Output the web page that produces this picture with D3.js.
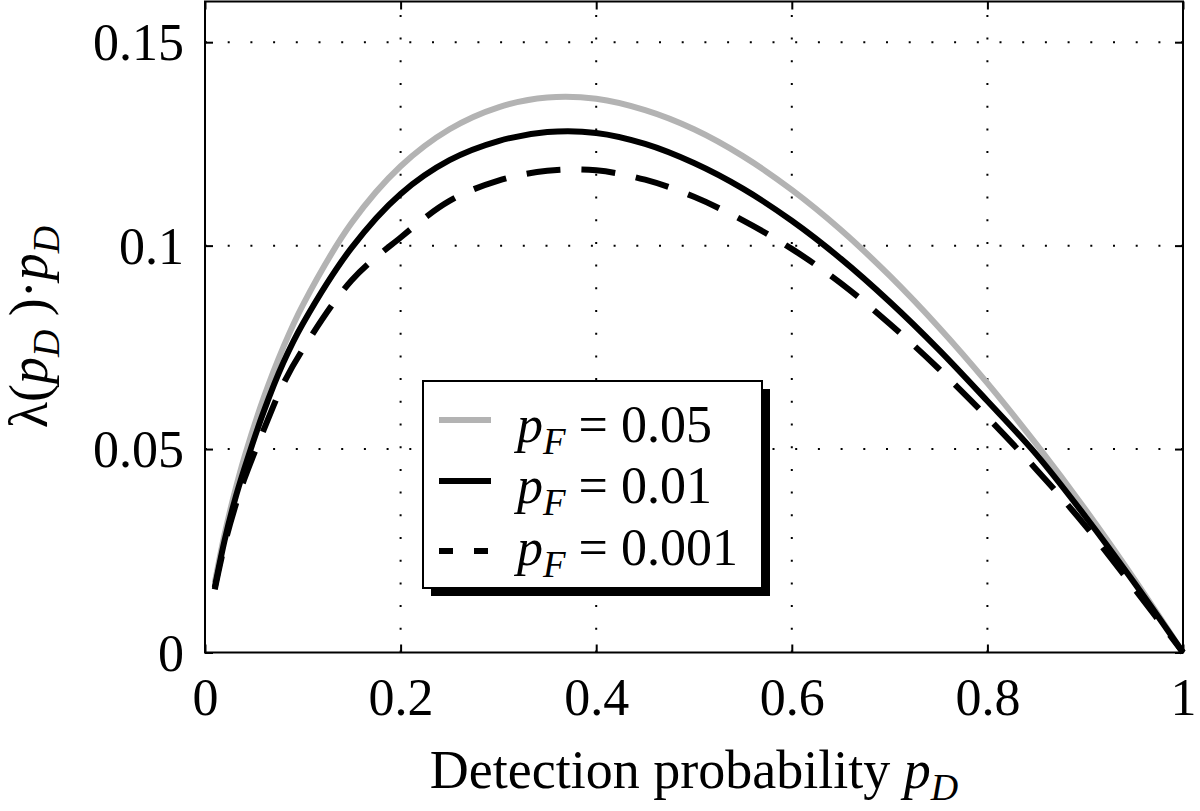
<!DOCTYPE html>
<html>
<head>
<meta charset="utf-8">
<script src="https://cdn.jsdelivr.net/npm/d3@7"></script>
<style>
  body { margin: 0; background: #fff; }
  svg text { font-family: "Liberation Serif", "Times New Roman", serif; fill: #000; }
</style>
</head>
<body>
<div id="chart"></div>
<script>
// detection probability samples
var pD = [0.01, 0.02, 0.03, 0.04, 0.06, 0.08, 0.1, 0.15, 0.2, 0.25, 0.3, 0.35, 0.4, 0.45, 0.5,
          0.55, 0.6, 0.65, 0.7, 0.75, 0.8, 0.85, 0.9, 0.95, 1.0];

// lambda(pD)*pD, one list per false alarm probability
var pF005 = [0.0171, 0.0290, 0.0390, 0.0478, 0.0626, 0.0750, 0.0854, 0.1056, 0.1195, 0.1286, 0.1340, 0.1364,
             0.1361, 0.1333, 0.1286, 0.1220, 0.1137, 0.1039, 0.0926, 0.0800, 0.0662, 0.0512, 0.0352, 0.0181, 0];
var pF001 = [0.0160, 0.0275, 0.0370, 0.0450, 0.0592, 0.0712, 0.0808, 0.0995, 0.1127, 0.1210, 0.1257, 0.1279,
             0.1277, 0.1250, 0.1203, 0.1140, 0.1061, 0.0968, 0.0862, 0.0745, 0.0618, 0.0487, 0.0335, 0.0172, 0];
var pF0001 = [0.0155, 0.0265, 0.0352, 0.0425, 0.0547, 0.0660, 0.0745, 0.0915, 0.1020, 0.1110, 0.1160, 0.1184,
              0.1185, 0.1162, 0.1120, 0.1062, 0.0992, 0.0908, 0.0808, 0.0698, 0.0578, 0.0450, 0.0312, 0.0158, 0];

var seriesNames = ["0.05", "0.01", "0.001"];

var xTicks = [0, 0.2, 0.4, 0.6, 0.8, 1];
var xTickLabels = ["0", "0.2", "0.4", "0.6", "0.8", "1"];
var yTicks = [0, 0.05, 0.1, 0.15];
var yTickLabels = ["0", "0.05", "0.1", "0.15"];

(function chart() {

  var W = 1200,
    H = 811,
    margin = { top: 1.5, right: 17, bottom: 158.5, left: 205 },
    width = W - margin.left - margin.right,
    height = H - margin.top - margin.bottom;

  var svg = d3.select("#chart")
    .append("svg")
    .attr("width", W)
    .attr("height", H);

  var g = svg.append("g")
    .attr("transform", "translate(" + margin.left + "," + margin.top + ")");

  var x = d3.scaleLinear().domain([0, 1]).range([0, width]);
  var y = d3.scaleLinear().domain([0, 0.16]).range([height, 0]);

  // dotted grid
  g.selectAll(".vgrid")
    .data(xTicks.slice(1, -1))
    .enter().append("line")
    .attr("class", "vgrid")
    .attr("x1", function(d) { return x(d); })
    .attr("x2", function(d) { return x(d); })
    .attr("y1", height)
    .attr("y2", 0)
    .attr("stroke", "#000")
    .attr("stroke-width", 2)
    .attr("stroke-dasharray", "2,20.7");

  g.selectAll(".hgrid")
    .data(yTicks.slice(1))
    .enter().append("line")
    .attr("class", "hgrid")
    .attr("x1", 0)
    .attr("x2", width)
    .attr("y1", function(d) { return y(d); })
    .attr("y2", function(d) { return y(d); })
    .attr("stroke", "#000")
    .attr("stroke-width", 2)
    .attr("stroke-dasharray", "2,20.7");

  var styles = [
    { color: "#b3b3b3", dash: null, legendDash: null },
    { color: "#000", dash: null, legendDash: null },
    { color: "#000", dash: "34,21", legendDash: "14,21" }
  ];
  var series = [pF005, pF001, pF0001];

  var line = d3.line()
    .x(function(d, i) { return x(pD[i]); })
    .y(function(d) { return y(d); })
    .curve(d3.curveCatmullRom.alpha(0.5));

  g.selectAll(".curve")
    .data(series)
    .enter().append("path")
    .attr("class", "curve")
    .attr("d", line)
    .attr("fill", "none")
    .attr("stroke", function(d, i) { return styles[i].color; })
    .attr("stroke-width", 6)
    .attr("stroke-dasharray", function(d, i) { return styles[i].dash; });

  // axes, ticks pointing inward on all four sides
  function styleAxis(sel) {
    sel.select(".domain").remove();
    sel.selectAll(".tick line").attr("stroke", "#000").attr("stroke-width", 2);
  }

  var xAxis = g.append("g")
    .attr("transform", "translate(0," + height + ")")
    .call(d3.axisBottom(x).tickValues(xTicks).tickSize(-8)
      .tickFormat(function(d, i) { return xTickLabels[i]; }))
    .call(styleAxis);
  xAxis.selectAll("text")
    .attr("y", 62)
    .attr("dy", 0)
    .style("font-size", "52px");

  g.append("g")
    .call(d3.axisTop(x).tickValues(xTicks).tickSize(-8).tickFormat(""))
    .call(styleAxis);

  var yAxis = g.append("g")
    .call(d3.axisLeft(y).tickValues(yTicks).tickSize(-8)
      .tickFormat(function(d, i) { return yTickLabels[i]; }))
    .call(styleAxis);
  yAxis.selectAll("text")
    .attr("x", -21)
    .attr("dy", "0.34em")
    .style("font-size", "52px");

  g.append("g")
    .attr("transform", "translate(" + width + ",0)")
    .call(d3.axisRight(y).tickValues(yTicks).tickSize(-8).tickFormat(""))
    .call(styleAxis);

  g.append("rect")
    .attr("width", width)
    .attr("height", height)
    .attr("fill", "none")
    .attr("stroke", "#000")
    .attr("stroke-width", 2);

  // axis labels
  var xl = svg.append("text")
    .attr("x", margin.left + width / 2)
    .attr("y", 788)
    .attr("text-anchor", "middle")
    .style("font-size", "54px");
  xl.append("tspan").text("Detection probability ");
  xl.append("tspan").style("font-style", "italic").text("p");
  xl.append("tspan").style("font-style", "italic").style("font-size", "38px").attr("dy", 12).text("D");

  var yl = svg.append("text")
    .attr("transform", "translate(47," + (margin.top + height / 2) + ") rotate(-90)")
    .attr("text-anchor", "middle")
    .style("font-size", "54px");
  yl.append("tspan").text("\u03bb(");
  yl.append("tspan").style("font-style", "italic").text("p");
  yl.append("tspan").style("font-style", "italic").style("font-size", "38px").attr("dy", 12).text("D");
  yl.append("tspan").attr("dy", -12).text(" )\u00b7");
  yl.append("tspan").style("font-style", "italic").text("p");
  yl.append("tspan").style("font-style", "italic").style("font-size", "38px").attr("dy", 12).text("D");

  // legend with drop shadow
  var lx = 423, ly = 381, lw = 339, lh = 207;
  var legend = svg.append("g").attr("class", "legend");
  legend.append("rect")
    .attr("x", lx + 8).attr("y", ly + 8)
    .attr("width", lw).attr("height", lh)
    .attr("fill", "#000");
  legend.append("rect")
    .attr("x", lx).attr("y", ly)
    .attr("width", lw).attr("height", lh)
    .attr("fill", "#fff")
    .attr("stroke", "#000")
    .attr("stroke-width", 2);

  var rowY = [420, 481, 551];
  var textY = [442, 503, 565];

  var item = legend.selectAll(".item")
    .data(seriesNames)
    .enter().append("g")
    .attr("class", "item");

  item.append("line")
    .attr("x1", 439).attr("x2", 491)
    .attr("y1", function(d, i) { return rowY[i]; })
    .attr("y2", function(d, i) { return rowY[i]; })
    .attr("stroke", function(d, i) { return styles[i].color; })
    .attr("stroke-width", 6)
    .attr("stroke-dasharray", function(d, i) { return styles[i].legendDash; });

  var t = item.append("text")
    .attr("x", 517)
    .attr("y", function(d, i) { return textY[i]; })
    .style("font-size", "52px");
  t.append("tspan").style("font-style", "italic").text("p");
  t.append("tspan").style("font-style", "italic").style("font-size", "37px").attr("dy", 12).text("F");
  t.append("tspan").attr("dy", -12).text(function(d) { return " = " + d; });

})();
</script>
</body>
</html>
